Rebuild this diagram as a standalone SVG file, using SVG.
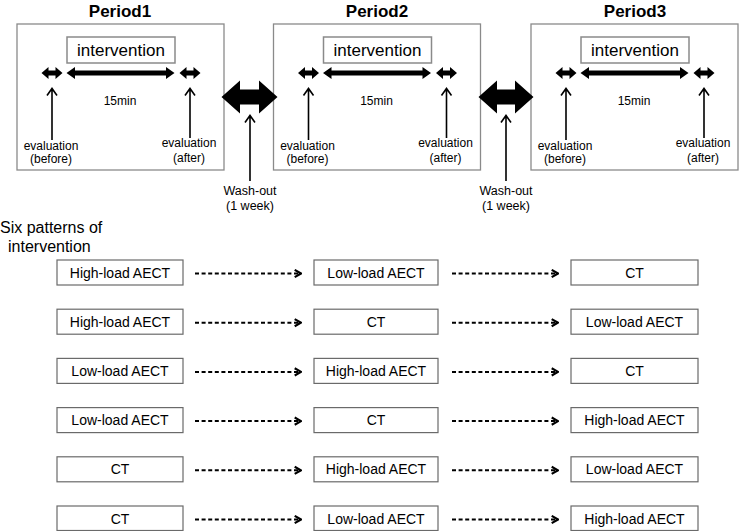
<svg xmlns="http://www.w3.org/2000/svg" width="739" height="531" viewBox="0 0 739 531">
<defs>
<style>
text{font-family:"Liberation Sans",Arial,sans-serif;fill:#000}
.title{font-size:17px;font-weight:bold;text-anchor:middle}
.int{font-size:17px;text-anchor:middle}
.sm{font-size:12px;text-anchor:middle}
.lbl{font-size:16px}
.bt{font-size:14px;text-anchor:middle}
.pbox{fill:#fff;stroke:#8a8a8a;stroke-width:1.3}
.ibox{fill:#fff;stroke:#8a8a8a;stroke-width:1.5}
.rbox{fill:#fff;stroke:#6a6a6a;stroke-width:1.2}
.blk{fill:#000}
.up{fill:none;stroke:#000;stroke-width:1.6}
.dash{fill:none;stroke:#000;stroke-width:2;stroke-dasharray:4 2.6;marker-end:url(#chev)}
</style>
<marker id="chev" viewBox="0 0 10 10" refX="9" refY="5" markerWidth="4.5" markerHeight="5" markerUnits="strokeWidth" orient="auto">
<path d="M2,1 L9,5 L2,9" fill="none" stroke="#000" stroke-width="2.4"/>
</marker>
<g id="periodTpl">
<rect class="pbox" x="17" y="24" width="207" height="146"/>
<rect class="ibox" x="67" y="37" width="108" height="26"/>
<text class="int" x="121" y="56">intervention</text>
<polygon class="blk" points="41.5,73 48.5,67 48.5,70.5 55.5,70.5 55.5,67 62.5,73 55.5,79 55.5,75.5 48.5,75.5 48.5,79"/>
<polygon class="blk" points="66.5,73 75,67 75,70.5 166,70.5 166,67 174.5,73 166,79 166,75.5 75,75.5 75,79"/>
<polygon class="blk" points="179.5,73 186.5,67 186.5,70.5 193.5,70.5 193.5,67 200.5,73 193.5,79 193.5,75.5 186.5,75.5 186.5,79"/>
<text class="sm" x="120" y="105">15min</text>
<path class="up" d="M52,140 V89 M47,95.5 L52,88.5 L57,95.5"/>
<path class="up" d="M190,138 V89 M185,95.5 L190,88.5 L195,95.5"/>
<text class="sm" x="51" y="150">evaluation</text>
<text class="sm" x="51" y="163">(before)</text>
<text class="sm" x="189" y="147">evaluation</text>
<text class="sm" x="189" y="162">(after)</text>
</g>
</defs>

<g id="period1">
<text class="title" x="120" y="16.5">Period1</text>
<use href="#periodTpl"/>
</g>
<g id="period2">
<text class="title" x="377" y="16.5">Period2</text>
<use href="#periodTpl" transform="translate(256.5,0)"/>
</g>
<g id="period3">
<text class="title" x="635" y="16.5">Period3</text>
<use href="#periodTpl" transform="translate(514,0)"/>
</g>

<g id="washout1">
<polygon class="blk" points="221.5,97 240,80.5 240,89.5 259,89.5 259,80.5 277.5,97 259,113.5 259,104.5 240,104.5 240,113.5"/>
<path class="up" d="M250,181 V116 M245,122.5 L250,115.5 L255,122.5"/>
<text class="sm" x="250" y="195" style="font-size:12.5px">Wash-out</text>
<text class="sm" x="250" y="209.5" style="font-size:12.5px">(1 week)</text>
</g>
<g id="washout2">
<polygon class="blk" points="478.5,97 497,80.5 497,89.5 515,89.5 515,80.5 533.5,97 515,113.5 515,104.5 497,104.5 497,113.5"/>
<path class="up" d="M506,181 V116 M501,122.5 L506,115.5 L511,122.5"/>
<text class="sm" x="506" y="195" style="font-size:12.5px">Wash-out</text>
<text class="sm" x="506" y="209.5" style="font-size:12.5px">(1 week)</text>
</g>

<g id="patterns-label">
<text class="lbl" x="0" y="233">Six patterns of</text>
<text class="lbl" x="8" y="252">intervention</text>
</g>

<g id="row1">
<rect class="rbox" x="57" y="260" width="126" height="25"/><text class="bt" x="120" y="277.5">High-load AECT</text>
<rect class="rbox" x="314" y="260" width="124" height="25"/><text class="bt" x="376" y="277.5">Low-load AECT</text>
<rect class="rbox" x="571" y="260" width="127" height="25"/><text class="bt" x="634.5" y="277.5">CT</text>
</g>
<g id="row2">
<rect class="rbox" x="57" y="309.2" width="126" height="25"/><text class="bt" x="120" y="326.7">High-load AECT</text>
<rect class="rbox" x="314" y="309.2" width="124" height="25"/><text class="bt" x="376" y="326.7">CT</text>
<rect class="rbox" x="571" y="309.2" width="127" height="25"/><text class="bt" x="634.5" y="326.7">Low-load AECT</text>
</g>
<g id="row3">
<rect class="rbox" x="57" y="358.4" width="126" height="25"/><text class="bt" x="120" y="375.9">Low-load AECT</text>
<rect class="rbox" x="314" y="358.4" width="124" height="25"/><text class="bt" x="376" y="375.9">High-load AECT</text>
<rect class="rbox" x="571" y="358.4" width="127" height="25"/><text class="bt" x="634.5" y="375.9">CT</text>
</g>
<g id="row4">
<rect class="rbox" x="57" y="407.6" width="126" height="25"/><text class="bt" x="120" y="425.1">Low-load AECT</text>
<rect class="rbox" x="314" y="407.6" width="124" height="25"/><text class="bt" x="376" y="425.1">CT</text>
<rect class="rbox" x="571" y="407.6" width="127" height="25"/><text class="bt" x="634.5" y="425.1">High-load AECT</text>
</g>
<g id="row5">
<rect class="rbox" x="57" y="456.8" width="126" height="25"/><text class="bt" x="120" y="474.3">CT</text>
<rect class="rbox" x="314" y="456.8" width="124" height="25"/><text class="bt" x="376" y="474.3">High-load AECT</text>
<rect class="rbox" x="571" y="456.8" width="127" height="25"/><text class="bt" x="634.5" y="474.3">Low-load AECT</text>
</g>
<g id="row6">
<rect class="rbox" x="57" y="506" width="126" height="24.5"/><text class="bt" x="120" y="523.5">CT</text>
<rect class="rbox" x="314" y="506" width="124" height="24.5"/><text class="bt" x="376" y="523.5">Low-load AECT</text>
<rect class="rbox" x="571" y="506" width="127" height="24.5"/><text class="bt" x="634.5" y="523.5">High-load AECT</text>
</g>

<g id="connectors">
<path class="dash" d="M195,273.5 H301"/><path class="dash" d="M452,273.5 H558"/>
<path class="dash" d="M195,322.7 H301"/><path class="dash" d="M452,322.7 H558"/>
<path class="dash" d="M195,371.9 H301"/><path class="dash" d="M452,371.9 H558"/>
<path class="dash" d="M195,421.1 H301"/><path class="dash" d="M452,421.1 H558"/>
<path class="dash" d="M195,470.3 H301"/><path class="dash" d="M452,470.3 H558"/>
<path class="dash" d="M195,519.5 H301"/><path class="dash" d="M452,519.5 H558"/>
</g>
</svg>
